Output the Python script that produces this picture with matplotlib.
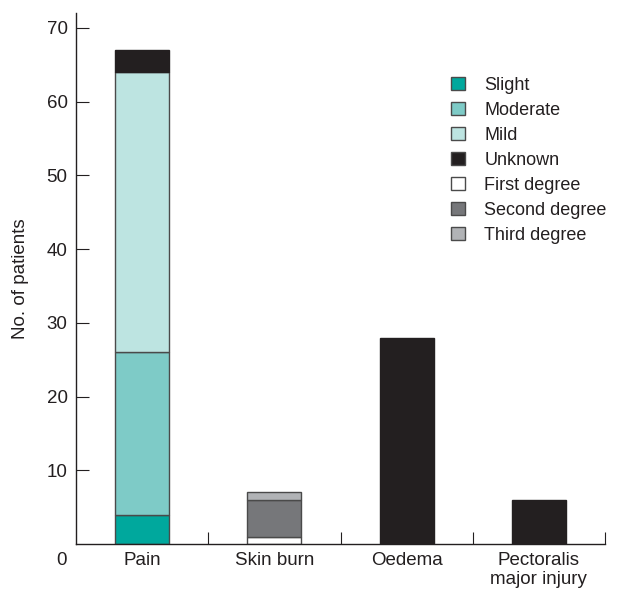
import matplotlib.pyplot as plt
from matplotlib.patches import Patch
import numpy as np

plt.rcParams['font.family'] = ['Liberation Sans', 'DejaVu Sans']

categories = ["Pain", "Skin burn", "Oedema", "Pectoralis\nmajor injury"]
series = ["Slight", "Moderate", "Mild", "Unknown", "First degree", "Second degree", "Third degree"]
colors = ["#00a89d", "#7ecbc7", "#bde4e1", "#231f20", "#ffffff", "#76777a", "#b1b3b6"]

# stacking order per category (bottom to top)
pain = {"Slight": 4, "Moderate": 22, "Mild": 38, "Unknown": 3}
skin_burn = {"First degree": 1, "Second degree": 5, "Third degree": 1}
oedema = {"Unknown": 28}
pectoralis = {"Unknown": 6}
stacks = [pain, skin_burn, oedema, pectoralis]

fig = plt.figure(figsize=(6.17, 5.91), dpi=100)
ax = fig.add_axes([76 / 617, 1 - 544 / 591, (605 - 76) / 617, (544 - 13) / 591])

x = np.arange(len(categories))
for i, stack in enumerate(stacks):
    bottom = 0
    for name, val in stack.items():
        c = colors[series.index(name)]
        ax.bar(x[i], val, bottom=bottom, width=0.41, color=c,
               edgecolor="#4a4a4a" if name != "Unknown" else "#231f20", linewidth=1)
        bottom += val

fs = 13.5
ax.set_xlim(-0.5, 3.5)
ax.set_ylim(0, 72)
ax.set_yticks(range(10, 71, 10))
ax.set_xticks(x + 0.5, minor=False)
ax.set_xticklabels([])
ax.set_xticks(x, minor=True)
ax.set_xticklabels(categories, minor=True, fontsize=fs, color="#231f20", linespacing=1.1)
ax.tick_params(axis="x", which="minor", length=0, pad=6)
ax.tick_params(axis="x", which="major", direction="in", length=9, color="#231f20")
ax.tick_params(axis="y", direction="in", length=9, labelsize=fs, pad=6,
               color="#231f20", labelcolor="#231f20")
for s in ["top", "right"]:
    ax.spines[s].set_visible(False)
for s in ["left", "bottom"]:
    ax.spines[s].set_color("#231f20")
    ax.spines[s].set_linewidth(1)

ax.text(-0.61, -2.3, "0", fontsize=fs, ha="center", va="center", color="#231f20")
ax.set_ylabel("No. of patients", fontsize=fs, color="#231f20", labelpad=13)

handles = [Patch(facecolor=c, edgecolor="#4a4a4a", linewidth=1) for c in colors]
ax.legend(handles, series, loc="upper left", bbox_to_anchor=(451 / 617, 1 - 77 / 591),
          bbox_transform=fig.transFigure, frameon=False, fontsize=13,
          borderpad=0, borderaxespad=0,
          handlelength=0.75, handleheight=0.75, handletextpad=1.1, labelspacing=0.44,
          labelcolor="#231f20")

fig.savefig("out.png", dpi=100)
